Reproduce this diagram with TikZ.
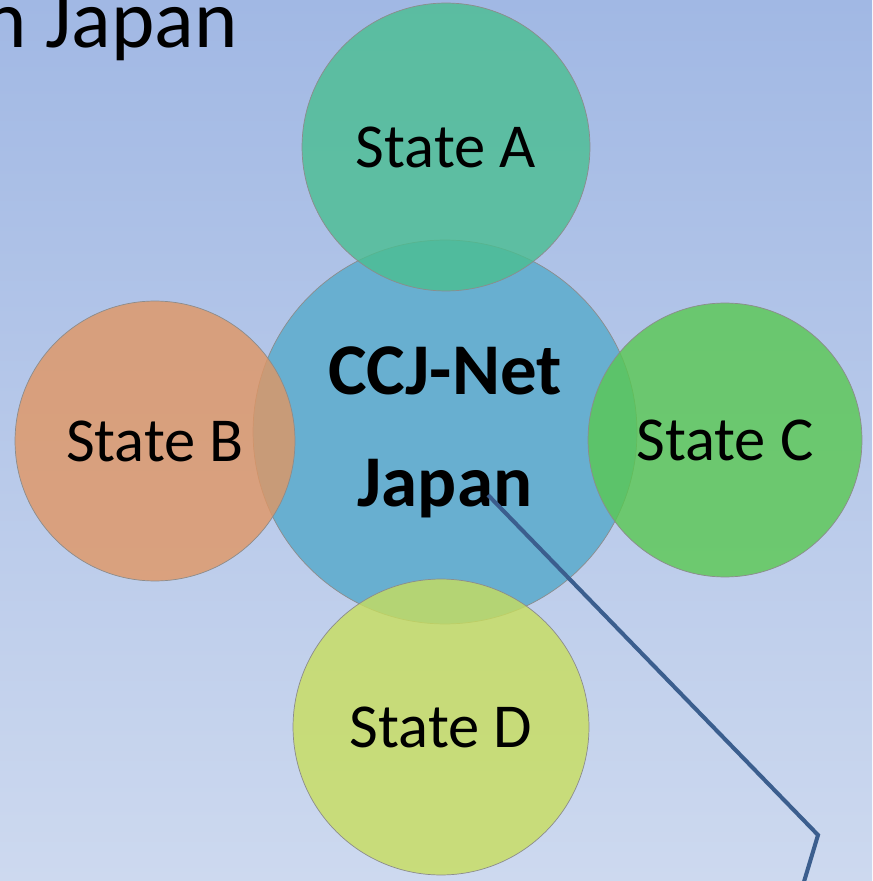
\documentclass[tikz,border=0pt]{standalone}
\usepackage{fontspec}
\setmainfont{Carlito}
\usepackage{tikz}
\usetikzlibrary{positioning, shapes.geometric}

\definecolor{bgtop}{HTML}{A1B8E4}
\definecolor{bgbottom}{HTML}{CDD9EF}
\definecolor{hubblue}{HTML}{68AFD0}
\definecolor{stateA}{HTML}{4ABE91}
\definecolor{stateB}{HTML}{E19663}
\definecolor{stateC}{HTML}{59C851}
\definecolor{stateD}{HTML}{C8DE5D}
\definecolor{linkblue}{HTML}{3B5E8E}

\begin{document}
\begin{tikzpicture}[x=0.02cm, y=-0.02cm]
        % Styles
        \tikzstyle{hub} = [circle, draw=black!45, line width=0.4pt, fill=hubblue,
            minimum size=7.68cm, align=center, font=\fontsize{41.5}{63.7}\selectfont\bfseries]
        \tikzstyle{statecircle} = [circle, draw=black!45, line width=0.4pt,
            fill opacity=0.8, text opacity=1, font=\fontsize{35.6}{42}\selectfont]
        \tikzstyle{line} = [draw=linkblue, line width=2.3pt, line join=miter]

        % Background
        \useasboundingbox (0,0) rectangle (872,881);
        \shade [top color=bgtop, bottom color=bgbottom] (0,0) rectangle (872,881);
        \node [anchor=base west, inner sep=0pt, font=\fontsize{47}{56}\selectfont]
            (title) at (-17,48) {n Japan};

        % Nodes
        \node [hub] (hub) at (445,432) {CCJ-Net\\Japan};
        \node [statecircle, fill=stateA, minimum size=5.76cm] (a) at (446,147) {State A};
        \node [statecircle, fill=stateB, minimum size=5.6cm] (b) at (155,441) {State B};
        \node [statecircle, fill=stateC, minimum size=5.48cm] (c) at (725,440) {State C};
        \node [statecircle, fill=stateD, minimum size=5.92cm] (d) at (441,727) {State D};

        % Connections
        \coordinate (tail) at (488,495);
        \coordinate (bend) at (818,835);
        \coordinate (tip) at (803,885);
        \path [line] (tail) -- (bend) -- (tip);
    \end{tikzpicture}
\end{document}
